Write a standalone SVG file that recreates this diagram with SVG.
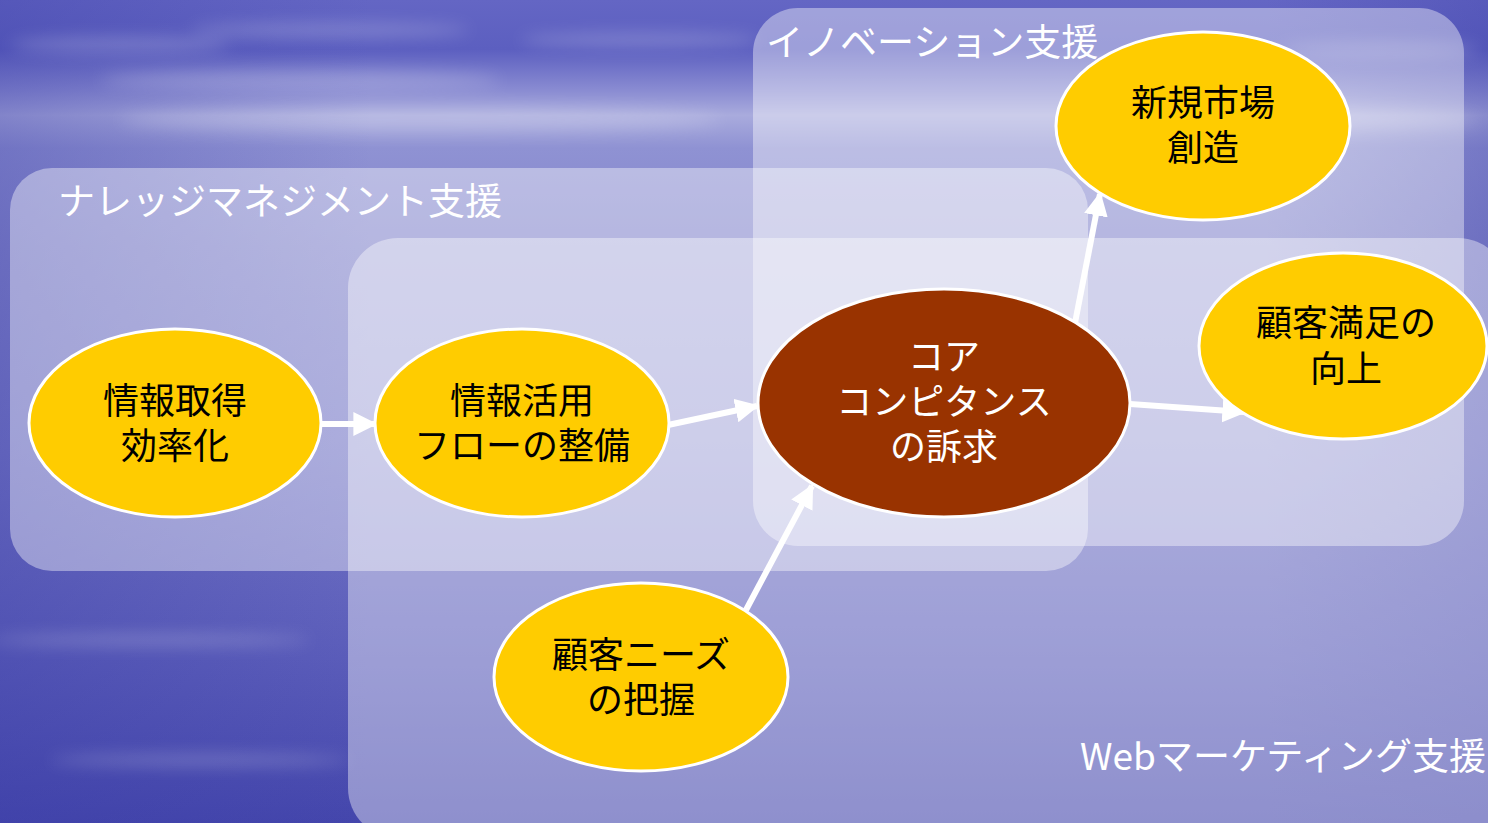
<svg xmlns="http://www.w3.org/2000/svg" width="1488" height="823" viewBox="0 0 1488 823">
<style>
.zone{fill:#ffffff;fill-opacity:0.4}
.zlabel{font-family:"Noto Sans CJK JP","Noto Sans",sans-serif;font-size:37px;fill:#ffffff}
.node{fill:#ffcc00;stroke:#ffffff;stroke-width:3}
.core{fill:#993300;stroke:#ffffff;stroke-width:3}
.t{font-family:"Noto Sans CJK JP","Noto Sans",sans-serif;font-size:36px;fill:#000000;text-anchor:middle}
.tw{font-family:"Noto Sans CJK JP","Noto Sans",sans-serif;font-size:36px;fill:#ffffff;text-anchor:middle}
.conn{stroke:#ffffff;stroke-width:6;fill:none;marker-end:url(#ah)}
</style>
<defs>
<linearGradient id="bg" x1="0" y1="0" x2="0" y2="1">
<stop offset="0" stop-color="#6466c4"/>
<stop offset="0.06" stop-color="#5c5fc0"/>
<stop offset="0.11" stop-color="#8a8cd2"/>
<stop offset="0.14" stop-color="#a9abdd"/>
<stop offset="0.18" stop-color="#8f92d3"/>
<stop offset="0.3" stop-color="#8486cc"/>
<stop offset="0.55" stop-color="#7476c6"/>
<stop offset="0.8" stop-color="#5b5dba"/>
<stop offset="1" stop-color="#4446ac"/>
</linearGradient>
<linearGradient id="side" x1="0" y1="0" x2="1" y2="0">
<stop offset="0" stop-color="#3a3ca6" stop-opacity="0.35"/>
<stop offset="0.25" stop-color="#3a3ca6" stop-opacity="0"/>
<stop offset="0.85" stop-color="#3a3ca6" stop-opacity="0"/>
<stop offset="1" stop-color="#3a3ca6" stop-opacity="0.3"/>
</linearGradient>
<filter id="blur" x="-20%" y="-50%" width="140%" height="200%"><feGaussianBlur stdDeviation="8"/></filter>
<marker id="ah" viewBox="0 0 10 10" refX="9" refY="5" markerWidth="24" markerHeight="24" markerUnits="userSpaceOnUse" orient="auto">
<path d="M0,0 L10,5 L0,10 z" fill="#ffffff"/>
</marker>
</defs>
<g id="background">
<rect x="0" y="0" width="1488" height="823" fill="url(#bg)"/>
<rect x="0" y="0" width="1488" height="823" fill="url(#side)"/>
<g filter="url(#blur)" fill="#ffffff" opacity="0.2">
<ellipse cx="120" cy="45" rx="110" ry="8"/>
<ellipse cx="330" cy="30" rx="140" ry="7"/>
<ellipse cx="300" cy="80" rx="200" ry="10"/>
<ellipse cx="640" cy="40" rx="120" ry="7"/>
<ellipse cx="420" cy="120" rx="300" ry="12"/>
<ellipse cx="1380" cy="50" rx="100" ry="8"/>
<ellipse cx="1300" cy="120" rx="180" ry="10"/>
<ellipse cx="150" cy="640" rx="160" ry="6"/>
<ellipse cx="200" cy="760" rx="150" ry="6"/>
</g>
</g>
<g id="zones">
<rect id="zone-knowledge" class="zone" x="10" y="168" width="1078" height="403" rx="42"/>
<rect id="zone-web" class="zone" x="348" y="238" width="1160" height="600" rx="50"/>
<rect id="zone-innovation" class="zone" x="753" y="8" width="711" height="538" rx="45"/>
<text class="zlabel" x="58" y="215">ナレッジマネジメント支援</text>
<text class="zlabel" x="766" y="56">イノベーション支援</text>
<text class="zlabel" x="1486" y="770" text-anchor="end">Webマーケティング支援</text>
</g>
<g id="connectors">
<line class="conn" x1="320" y1="424" x2="375" y2="424"/>
<line class="conn" x1="668" y1="425" x2="757" y2="406"/>
<line class="conn" x1="1075" y1="323" x2="1100" y2="194"/>
<line class="conn" x1="1130" y1="404" x2="1244" y2="412"/>
<line class="conn" x1="746" y1="610" x2="812" y2="486"/>
</g>
<g id="node-info-get">
<ellipse class="node" cx="175" cy="423" rx="146" ry="94"/>
<text class="t"><tspan x="175" y="414">情報取得</tspan><tspan x="175" y="459">効率化</tspan></text>
</g>
<g id="node-info-flow">
<ellipse class="node" cx="522" cy="423" rx="147" ry="94"/>
<text class="t"><tspan x="522" y="414">情報活用</tspan><tspan x="522" y="459">フローの整備</tspan></text>
</g>
<g id="node-core">
<ellipse class="core" cx="944" cy="403" rx="186" ry="114"/>
<text class="tw"><tspan x="944" y="370">コア</tspan><tspan x="944" y="415">コンピタンス</tspan><tspan x="944" y="460">の訴求</tspan></text>
</g>
<g id="node-new-market">
<ellipse class="node" cx="1203" cy="126" rx="147" ry="94"/>
<text class="t"><tspan x="1203" y="116">新規市場</tspan><tspan x="1203" y="161">創造</tspan></text>
</g>
<g id="node-satisfaction">
<ellipse class="node" cx="1343" cy="346" rx="144" ry="93"/>
<text class="t"><tspan x="1346" y="336">顧客満足の</tspan><tspan x="1346" y="382">向上</tspan></text>
</g>
<g id="node-needs">
<ellipse class="node" cx="641" cy="677" rx="147" ry="94"/>
<text class="t"><tspan x="641" y="668">顧客ニーズ</tspan><tspan x="641" y="713">の把握</tspan></text>
</g>
</svg>
